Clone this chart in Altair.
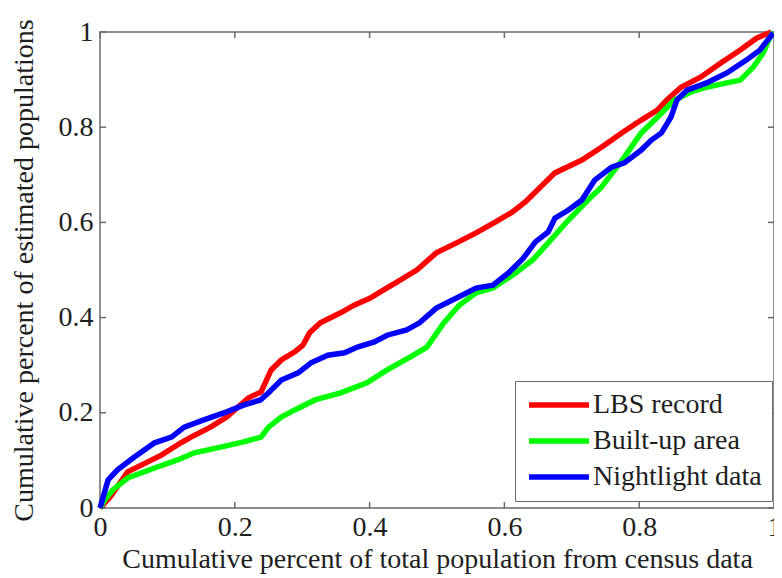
import altair as alt
import pandas as pd

# ---- data ----
series_names = ["LBS record", "Built-up area", "Nightlight data"]
series_colors = ["#ff0000", "#00ff00", "#0000ff"]

lbs_x = [0, 0.015, 0.041, 0.091, 0.120, 0.135, 0.164, 0.188, 0.220, 0.239, 0.254, 0.269,
         0.289, 0.301, 0.311, 0.327, 0.357, 0.377, 0.401, 0.416, 0.441, 0.470, 0.499, 0.529,
         0.558, 0.587, 0.612, 0.631, 0.675, 0.715, 0.744, 0.774, 0.803, 0.827, 0.841, 0.862,
         0.891, 0.921, 0.950, 0.974, 0.996]
lbs_y = [0, 0.023, 0.076, 0.111, 0.137, 0.149, 0.170, 0.191, 0.231, 0.244, 0.290, 0.311,
         0.328, 0.342, 0.368, 0.389, 0.410, 0.426, 0.441, 0.454, 0.475, 0.500, 0.536, 0.557,
         0.578, 0.601, 0.622, 0.643, 0.704, 0.731, 0.758, 0.788, 0.815, 0.836, 0.857, 0.884,
         0.905, 0.935, 0.962, 0.987, 1.0]

built_x = [0, 0.007, 0.019, 0.041, 0.081, 0.115, 0.140, 0.179, 0.213, 0.239, 0.250, 0.269,
           0.289, 0.319, 0.357, 0.396, 0.426, 0.460, 0.485, 0.510, 0.533, 0.558, 0.583, 0.617,
           0.642, 0.665, 0.695, 0.724, 0.744, 0.778, 0.803, 0.827, 0.852, 0.877, 0.900, 0.930,
           0.950, 0.969, 0.984, 0.994, 0.999]
built_y = [0, 0.017, 0.038, 0.063, 0.084, 0.101, 0.116, 0.128, 0.139, 0.149, 0.170, 0.191,
           0.206, 0.227, 0.242, 0.263, 0.290, 0.317, 0.338, 0.389, 0.426, 0.452, 0.462, 0.494,
           0.521, 0.557, 0.605, 0.647, 0.674, 0.737, 0.788, 0.821, 0.857, 0.874, 0.884, 0.893,
           0.899, 0.926, 0.956, 0.989, 1.0]

night_x = [0, 0.012, 0.026, 0.051, 0.081, 0.106, 0.125, 0.154, 0.188, 0.213, 0.238, 0.250,
           0.269, 0.294, 0.313, 0.338, 0.363, 0.382, 0.407, 0.426, 0.455, 0.474, 0.499, 0.529,
           0.558, 0.583, 0.606, 0.627, 0.646, 0.665, 0.675, 0.695, 0.715, 0.734, 0.759, 0.778,
           0.803, 0.818, 0.833, 0.847, 0.856, 0.871, 0.900, 0.930, 0.959, 0.979, 0.999]
night_y = [0, 0.059, 0.080, 0.107, 0.137, 0.149, 0.170, 0.185, 0.202, 0.216, 0.227, 0.242,
           0.269, 0.284, 0.305, 0.321, 0.326, 0.338, 0.349, 0.363, 0.374, 0.389, 0.420, 0.441,
           0.462, 0.468, 0.494, 0.523, 0.559, 0.580, 0.609, 0.626, 0.647, 0.689, 0.716, 0.725,
           0.752, 0.773, 0.788, 0.821, 0.857, 0.878, 0.893, 0.914, 0.941, 0.962, 0.998]

tick_values = [0, 0.2, 0.4, 0.6, 0.8, 1]

# ---- build table ----
rows = []
for name, xs, ys in zip(series_names, [lbs_x, built_x, night_x], [lbs_y, built_y, night_y]):
    for i, (xv, yv) in enumerate(zip(xs, ys)):
        rows.append({"series": name, "x": xv, "y": yv, "i": i})
df = pd.DataFrame(rows)

W, H = 674, 476
TICK = 6
tick_df = pd.DataFrame({"v": tick_values})
tick_df["x0"] = 0.0
tick_df["x0e"] = TICK / W
tick_df["x1"] = 1.0
tick_df["x1e"] = 1 - TICK / W
tick_df["y0"] = 0.0
tick_df["y0e"] = TICK / H
tick_df["y1"] = 1.0
tick_df["y1e"] = 1 - TICK / H

xscale = alt.Scale(domain=[0, 1], nice=False, zero=False)
yscale = alt.Scale(domain=[0, 1], nice=False, zero=False)

FONT = "'Liberation Serif', 'Times New Roman', 'DejaVu Serif', serif"
TXT = "#1e1e1e"
FRAME = "#6a6a6a"

lines = alt.Chart(df).mark_line(strokeWidth=5.5, clip=False).encode(
    x=alt.X("x:Q", scale=xscale,
            axis=alt.Axis(values=tick_values, format="~g", title="Cumulative percent of total population from census data",
                          labelPadding=5, titlePadding=4, labelFlush=False)),
    y=alt.Y("y:Q", scale=yscale,
            axis=alt.Axis(values=tick_values, format="~g", title="Cumulative percent of estimated populations",
                          labelPadding=7, titlePadding=20, labelFlush=False)),
    color=alt.Color("series:N",
                    scale=alt.Scale(domain=series_names, range=series_colors),
                    legend=alt.Legend(title=None, orient="none", legendX=415, legendY=349,
                                      symbolType="M-1,0H5", symbolSize=400, symbolStrokeWidth=5.5,
                                      labelFont=FONT, labelFontSize=28, labelColor=TXT,
                                      labelOffset=40, padding=10, rowPadding=8,
                                      strokeColor=FRAME, fillColor="white", labelLimit=400)),
    order="i:Q",
)

base = alt.Chart(tick_df)
tb = base.mark_rule(color=FRAME, strokeWidth=1.5).encode(
    x=alt.X("v:Q", scale=xscale), y=alt.Y("y0:Q", scale=yscale), y2="y0e:Q")
tt = base.mark_rule(color=FRAME, strokeWidth=1.5).encode(
    x=alt.X("v:Q", scale=xscale), y=alt.Y("y1:Q", scale=yscale), y2="y1e:Q")
tl = base.mark_rule(color=FRAME, strokeWidth=1.5).encode(
    y=alt.Y("v:Q", scale=yscale), x=alt.X("x0:Q", scale=xscale), x2="x0e:Q")
tr = base.mark_rule(color=FRAME, strokeWidth=1.5).encode(
    y=alt.Y("v:Q", scale=yscale), x=alt.X("x1:Q", scale=xscale), x2="x1e:Q")

chart = alt.layer(tb, tt, tl, tr, lines).properties(
    width=W, height=H,
    padding={"left": 92, "top": 24, "right": 0, "bottom": 68},
    autosize=alt.AutoSizeParams(type="none"),
    background="white",
).configure_axis(
    labelFont=FONT, labelFontSize=28, labelColor=TXT,
    titleFont=FONT, titleFontSize=28, titleFontWeight="normal", titleColor=TXT,
    grid=False, domain=False, ticks=False, tickSize=0,
).configure_view(stroke=FRAME, strokeWidth=1.5)

chart.save("out.html", embed_options={"renderer": "svg", "actions": False})
